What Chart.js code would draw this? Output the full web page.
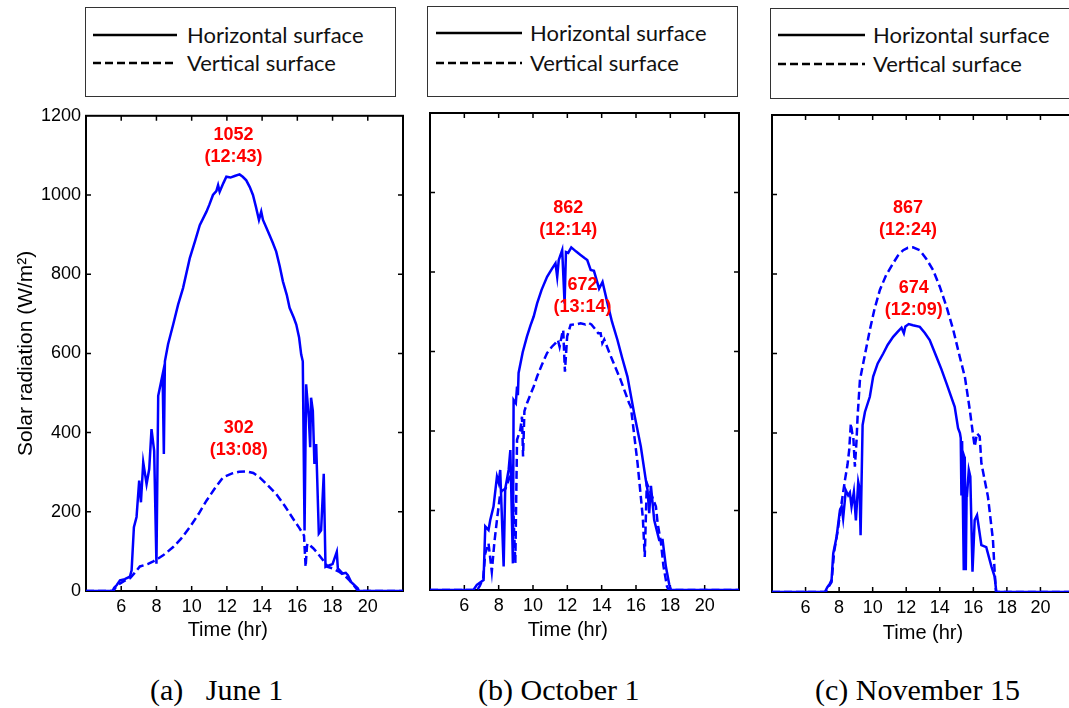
<!DOCTYPE html>
<html>
<head>
<meta charset="utf-8">
<script src="https://cdn.jsdelivr.net/npm/chart.js@4.4.1/dist/chart.umd.min.js"></script>
<style>
  html, body { margin: 0; padding: 0; background: #fff; }
  body { position: relative; width: 1069px; height: 708px; overflow: hidden; }
  canvas { position: absolute; }
  .legend { position: absolute; border: 1px solid #333; background: #fff; box-sizing: border-box; }
  .ltext { position: absolute; line-height: 24px; font-family: Lato, "Open Sans", sans-serif; font-size: 22px; color: #111; white-space: nowrap; }
  .caption { position: absolute; line-height: 30px; font-family: "Liberation Serif", "Times New Roman", serif; font-size: 30px; color: #000; white-space: pre; }
</style>
</head>
<body>
<canvas id="june" width="420" height="560" style="left:0px;top:100px"></canvas>
<canvas id="october" width="330" height="560" style="left:420px;top:100px"></canvas>
<canvas id="november" width="330" height="560" style="left:760px;top:100px"></canvas>
<script>
const seriesNames = ['Horizontal surface', 'Vertical surface'];
const captions = ['(a)   June 1', '(b) October 1', '(c) November 15'];
const xTicks = [6, 8, 10, 12, 14, 16, 18, 20];
const yTicks = [0, 200, 400, 600, 800, 1000, 1200];

// June 1 (time in hours, radiation in W/m2)
const junHorT = [4, 5.5, 5.6, 5.75, 5.93, 6.2, 6.49, 6.59, 6.72, 6.87, 7.02, 7.12, 7.25, 7.44, 7.59, 7.72, 7.87, 8.0, 8.1, 8.35, 8.42, 8.48, 8.66, 8.95, 9.23, 9.51, 9.89, 10.2, 10.46, 10.84, 11.0, 11.21, 11.4, 11.5, 11.59, 11.8, 11.97, 12.2, 12.44, 12.72, 12.9, 13.1, 13.3, 13.48, 13.65, 13.82, 13.95, 14.05, 14.2, 14.42, 14.6, 14.8, 15.0, 15.18, 15.4, 15.56, 15.8, 15.94, 16.1, 16.22, 16.31, 16.41, 16.5, 16.65, 16.73, 16.78, 16.88, 16.97, 17.07, 17.22, 17.35, 17.5, 17.6, 17.83, 18.0, 18.24, 18.3, 18.58, 18.75, 18.87, 19.05, 19.43, 19.5, 22];
const junHorV = [0, 0, 8, 15, 27, 30, 36, 52, 161, 187, 279, 224, 325, 270, 308, 409, 354, 69, 493, 547, 346, 580, 623, 673, 723, 765, 840, 885, 924, 958, 975, 1000, 1010, 1025, 1008, 1030, 1046, 1044, 1048, 1052, 1046, 1037, 1020, 1000, 970, 937, 958, 937, 922, 899, 880, 857, 820, 782, 748, 715, 690, 673, 640, 597, 580, 153, 522, 438, 363, 488, 455, 321, 371, 145, 153, 296, 61, 65, 68, 99, 57, 44, 46, 40, 23, 7, 0, 0];
const junVerT = [4, 5.55, 5.7, 5.9, 6.2, 6.5, 6.75, 7.06, 7.5, 7.82, 8.1, 8.38, 8.95, 9.4, 9.89, 10.4, 10.84, 11.3, 11.78, 12.3, 12.7, 13.13, 13.5, 13.86, 14.3, 14.8, 15.3, 15.75, 16.1, 16.38, 16.47, 16.55, 16.6, 16.9, 17.16, 17.45, 17.73, 18.0, 18.39, 18.7, 18.96, 19.2, 19.45, 22];
const junVerV = [0, 0, 10, 18, 26, 32, 45, 62, 68, 75, 82, 90, 111, 132, 161, 195, 228, 258, 287, 297, 301, 302, 298, 287, 268, 245, 214, 183, 160, 140, 61, 115, 120, 108, 95, 78, 61, 57, 48, 38, 27, 15, 0, 0];

// October 1
const octHorT = [4, 6.53, 6.73, 7.12, 7.22, 7.41, 7.51, 7.7, 7.9, 8.0, 8.09, 8.29, 8.38, 8.58, 8.68, 8.83, 8.87, 9.0, 9.07, 9.12, 9.16, 9.4, 9.65, 9.85, 10.04, 10.24, 10.5, 10.82, 11.1, 11.31, 11.41, 11.5, 11.7, 11.84, 11.92, 12.05, 12.23, 12.5, 12.77, 13.0, 13.16, 13.36, 13.55, 13.85, 14.05, 14.34, 14.6, 14.92, 15.2, 15.5, 15.89, 16.28, 16.57, 16.67, 16.77, 16.87, 17.06, 17.35, 17.55, 17.74, 17.94, 18.04, 22];
const octHorV = [0, 0, 13, 25, 160, 151, 176, 210, 285, 270, 302, 59, 254, 302, 352, 67, 478, 470, 512, 490, 546, 598, 638, 665, 688, 721, 755, 788, 808, 822, 788, 830, 855, 721, 850, 848, 862, 852, 843, 835, 830, 805, 803, 758, 775, 721, 675, 629, 583, 537, 445, 361, 277, 252, 193, 262, 176, 126, 126, 59, 13, 0, 0];
const octVerT = [4, 6.75, 6.9, 7.1, 7.22, 7.41, 7.6, 7.75, 7.9, 8.09, 8.2, 8.4, 8.58, 8.77, 8.97, 9.07, 9.26, 9.36, 9.42, 9.5, 9.65, 10.04, 10.24, 10.5, 10.82, 11.1, 11.31, 11.45, 11.55, 11.7, 11.76, 11.86, 11.99, 12.19, 12.5, 12.77, 13.05, 13.23, 13.4, 13.65, 13.8, 13.94, 14.04, 14.15, 14.53, 15.11, 15.6, 15.7, 16.09, 16.28, 16.4, 16.51, 16.63, 16.87, 17.16, 17.26, 17.45, 17.6, 17.8, 17.9, 22];
const octVerV = [0, 0, 10, 30, 92, 117, 46, 120, 176, 243, 250, 255, 277, 302, 67, 378, 403, 436, 336, 450, 470, 512, 537, 565, 596, 612, 621, 629, 612, 645, 654, 549, 638, 667, 668, 671, 668, 672, 668, 655, 646, 646, 621, 630, 588, 528, 470, 461, 319, 235, 180, 83, 269, 243, 210, 168, 120, 60, 10, 0, 0];

// November 15
const novHorT = [4, 7.15, 7.3, 7.45, 7.55, 7.65, 7.85, 8.05, 8.15, 8.24, 8.4, 8.54, 8.64, 8.74, 8.88, 9.0, 9.14, 9.22, 9.28, 9.4, 9.54, 9.83, 10.03, 10.3, 10.63, 10.9, 11.22, 11.5, 11.72, 11.86, 11.95, 12.15, 12.4, 12.81, 13.1, 13.4, 13.8, 14.1, 14.4, 14.89, 15.09, 15.2, 15.25, 15.29, 15.33, 15.43, 15.46, 15.49, 15.55, 15.6, 15.63, 15.73, 15.82, 15.95, 16.08, 16.22, 16.48, 16.77, 17.08, 17.27, 17.37, 22];
const novHorV = [0, 0, 12, 21, 30, 97, 139, 206, 215, 185, 256, 243, 250, 215, 252, 180, 277, 260, 143, 420, 453, 491, 542, 575, 600, 622, 642, 655, 665, 651, 668, 674, 671, 667, 652, 634, 592, 560, 525, 466, 412, 400, 387, 243, 380, 55, 340, 336, 55, 250, 248, 307, 290, 51, 181, 193, 118, 113, 64, 39, 0, 0];
const novVerT = [4, 7.2, 7.4, 7.55, 7.7, 7.9, 8.1, 8.35, 8.5, 8.6, 8.7, 8.78, 8.84, 8.94, 9.04, 9.1, 9.24, 9.44, 9.83, 10.1, 10.43, 10.8, 11.22, 11.5, 11.82, 12.1, 12.4, 12.81, 13.2, 13.6, 14.0, 14.4, 14.8, 15.19, 15.5, 15.79, 16.0, 16.08, 16.22, 16.38, 16.48, 16.87, 17.17, 17.27, 17.35, 22];
const novVerV = [0, 0, 15, 25, 100, 150, 210, 282, 320, 357, 424, 400, 395, 315, 382, 440, 533, 576, 659, 710, 760, 797, 827, 846, 860, 866, 867, 860, 838, 810, 768, 718, 660, 592, 540, 458, 390, 366, 399, 391, 324, 240, 131, 51, 0, 0];

const BLUE = '#0000ff';
const SANS = '"Liberation Sans", Arial, sans-serif';

function hhmm(t) {
  let h = Math.floor(t), m = Math.round((t - h) * 60);
  if (m === 60) { h += 1; m = 0; }
  return h + ':' + String(m).padStart(2, '0');
}

// box around the plot area with MATLAB-style inward ticks
const frameTicks = {
  id: 'frameTicks',
  beforeDatasetsDraw(chart) {
    const { ctx, chartArea: a, scales: { x, y } } = chart;
    ctx.save();
    ctx.strokeStyle = '#000';
    ctx.lineWidth = 1.5;
    ctx.beginPath();
    x.ticks.forEach(t => {
      if (t.value <= x.min || t.value >= x.max) return;
      const px = x.getPixelForValue(t.value);
      ctx.moveTo(px, a.bottom); ctx.lineTo(px, a.bottom - 5);
      ctx.moveTo(px, a.top); ctx.lineTo(px, a.top + 5);
    });
    y.ticks.forEach(t => {
      if (t.value <= y.min || t.value >= y.max) return;
      const py = y.getPixelForValue(t.value);
      ctx.moveTo(a.left, py); ctx.lineTo(a.left + 5, py);
      ctx.moveTo(a.right, py); ctx.lineTo(a.right - 5, py);
    });
    ctx.stroke();
    ctx.lineWidth = 2;
    ctx.strokeRect(a.left, a.top, a.width, a.height);
    ctx.restore();
  }
};

// red value + time label above the maximum of each series
const peakLabels = {
  id: 'peakLabels',
  afterDatasetsDraw(chart, args, opts) {
    const { ctx, scales: { x, y } } = chart;
    ctx.save();
    ctx.fillStyle = '#ff0000';
    ctx.font = 'bold 18px ' + SANS;
    ctx.textAlign = 'center';
    ctx.textBaseline = 'middle';
    chart.data.datasets.forEach((ds, i) => {
      const top = ds.data.reduce((m, p) => (p.y > m.y ? p : m));
      const [dx, dy] = opts.offsets[i];
      const px = x.getPixelForValue(top.x) + dx;
      const py = y.getPixelForValue(top.y) + dy;
      ctx.fillText(String(top.y), px, py - 39);
      ctx.fillText('(' + hhmm(top.x) + ')', px, py - 17);
    });
    ctx.restore();
  }
};

function makePanel(id, horT, horV, verT, verV, cfg) {
  const toPts = (ts, vs) => ts.map((t, i) => ({ x: t, y: vs[i] }));
  return new Chart(document.getElementById(id), {
    type: 'line',
    data: {
      datasets: [
        { label: seriesNames[0], data: toPts(horT, horV), borderColor: BLUE, borderWidth: 2.5, pointRadius: 0, tension: 0 },
        { label: seriesNames[1], data: toPts(verT, verV), borderColor: BLUE, borderWidth: 2.5, borderDash: [8, 4], pointRadius: 0, tension: 0 }
      ]
    },
    plugins: [frameTicks, peakLabels],
    options: {
      responsive: false,
      animation: false,
      devicePixelRatio: 1,
      layout: { padding: cfg.pad },
      plugins: {
        legend: { display: false },
        tooltip: { enabled: false },
        peakLabels: { offsets: cfg.offsets }
      },
      scales: {
        x: {
          type: 'linear', min: 4, max: 22,
          afterBuildTicks: s => { s.ticks = [4, ...xTicks, 22].map(v => ({ value: v })); },
          afterFit: s => { s.height = cfg.xH; },
          grid: { display: false, drawTicks: false },
          border: { display: false },
          ticks: {
            autoSkip: false, maxRotation: 0, padding: 5, color: '#000',
            font: { family: SANS, size: 18 },
            callback: v => (xTicks.includes(v) ? String(v) : '')
          },
          title: {
            display: true, text: cfg.xTitle, color: '#000',
            font: { family: SANS, size: 20 }, padding: { top: 0, bottom: cfg.xTitlePad }
          }
        },
        y: {
          type: 'linear', min: 0, max: 1200,
          afterBuildTicks: s => { s.ticks = yTicks.map(v => ({ value: v })); },
          afterFit: s => { s.width = cfg.yW; },
          grid: { display: false, drawTicks: false },
          border: { display: false },
          ticks: {
            display: cfg.yLabels, padding: 5, color: '#000',
            font: { family: SANS, size: 18 },
            callback: v => String(v)
          },
          title: {
            display: cfg.yLabels, text: 'Solar radiation (W/m²)', color: '#000',
            font: { family: SANS, size: 21 }, padding: { top: 14, bottom: 0 }
          }
        }
      }
    }
  });
}

makePanel('june', junHorT, junHorV, junVerT, junVerV, {
  pad: { left: 0, top: 13, right: 17, bottom: 0 }, yW: 86, xH: 69, yLabels: true,
  xTitle: 'Time (hr)      ', xTitlePad: 18, offsets: [[-6, 0], [-8, -4]]
});
makePanel('october', octHorT, octHorV, octVerT, octVerV, {
  pad: { left: 0, top: 13, right: 11, bottom: 0 }, yW: 10, xH: 70, yLabels: false,
  xTitle: 'Time (hr)      ', xTitlePad: 18, offsets: [[-3, 0], [-6, 1]]
});
makePanel('november', novHorT, novHorV, novVerT, novVerV, {
  pad: { left: 0, top: 15, right: 16, bottom: 0 }, yW: 12, xH: 68, yLabels: false,
  xTitle: 'Time (hr)', xTitlePad: 15, offsets: [[5, 3], [-5, 0]]
});

// legend boxes above each panel
const legendBoxes = [
  { left: 85, top: 7, width: 311, height: 90, lineX: 7, lineW: 84, textX: 101, rows: [27, 55] },
  { left: 427, top: 6, width: 311, height: 91, lineX: 8, lineW: 86, textX: 102, rows: [26, 56] },
  { left: 770, top: 8, width: 320, height: 91, lineX: 7, lineW: 87, textX: 102, rows: [26, 55] }
];
legendBoxes.forEach(b => {
  const el = document.createElement('div');
  el.className = 'legend';
  Object.assign(el.style, { left: b.left + 'px', top: b.top + 'px', width: b.width + 'px', height: b.height + 'px' });
  seriesNames.forEach((name, i) => {
    const cy = b.rows[i];
    const dash = i ? ' stroke-dasharray="8 4"' : '';
    el.insertAdjacentHTML('beforeend',
      `<svg style="position:absolute;left:${b.lineX}px;top:${cy - 3}px" width="${b.lineW}" height="6">` +
      `<line x1="0" y1="3" x2="${b.lineW}" y2="3" stroke="#000" stroke-width="2.6"${dash}/></svg>` +
      `<span class="ltext" style="left:${b.textX}px;top:${cy - 12}px">${name}</span>`);
  });
  document.body.appendChild(el);
});

// panel captions
const captionLeft = [150, 478, 815];
captions.forEach((text, i) => {
  const el = document.createElement('div');
  el.className = 'caption';
  el.style.left = captionLeft[i] + 'px';
  el.style.top = '675px';
  el.textContent = text;
  document.body.appendChild(el);
});
</script>
</body>
</html>
